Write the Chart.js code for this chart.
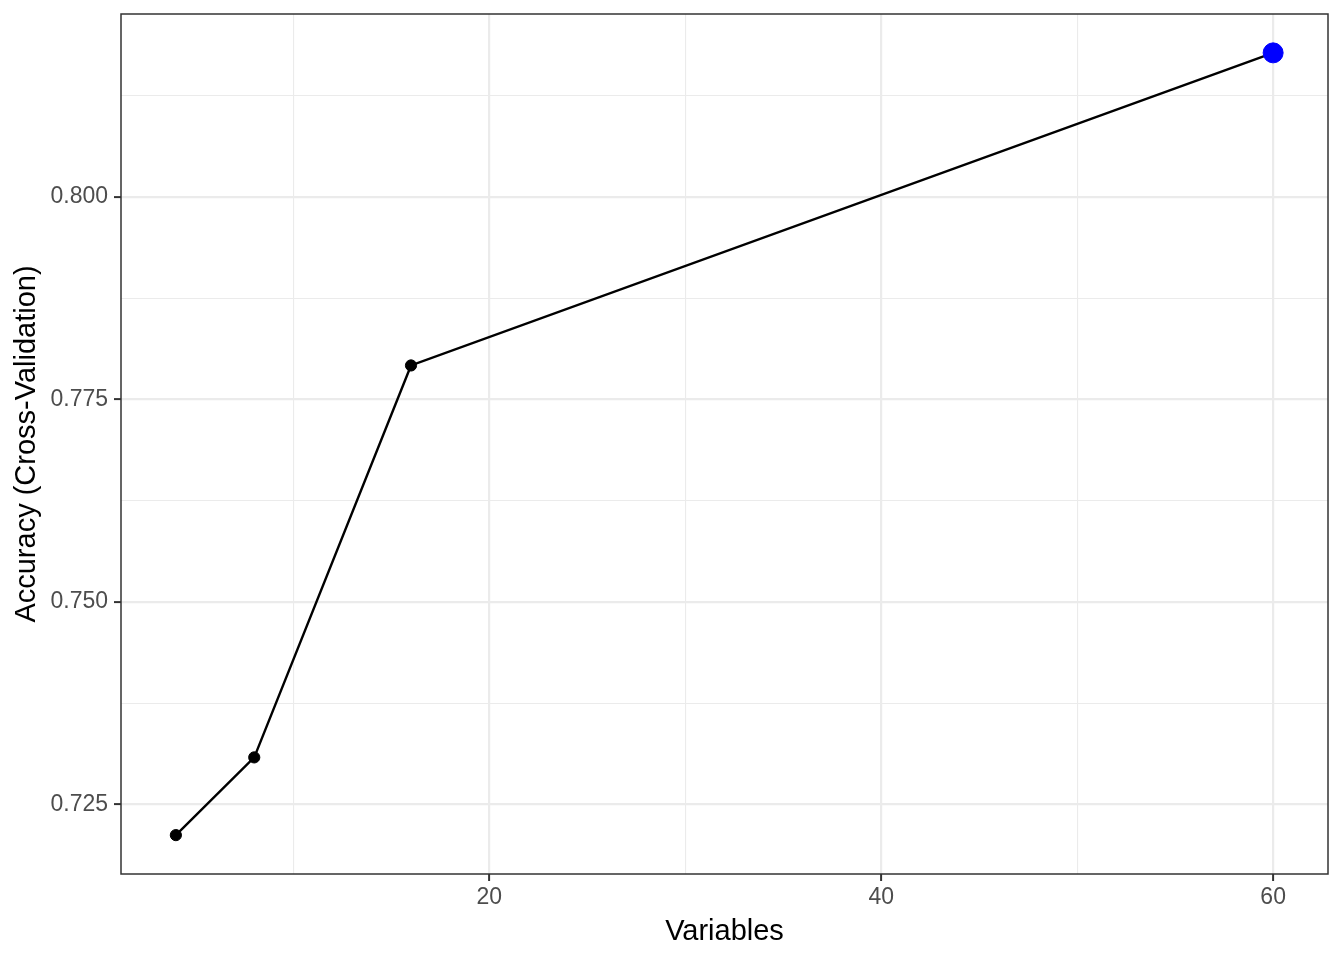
<!DOCTYPE html>
<html>
<head>
<meta charset="utf-8">
<script src="https://cdn.jsdelivr.net/npm/chart.js@4"></script>
<style>
  body { margin: 0; background: #fff; }
</style>
</head>
<body>
<canvas id="cv" width="1344" height="960"></canvas>
<script>
// data
var variables = [4, 8, 16, 60];
var accuracy = [0.7212, 0.7308, 0.7792, 0.8178];

// axis ticks (major get labels, minor only grid)
var xMajor = [20, 40, 60];
var xMinor = [10, 30, 50];
var yMajor = [0.725, 0.750, 0.775, 0.800];
var yMinor = [0.7375, 0.7625, 0.7875, 0.8125];

var FONT = "'Liberation Sans', Arial, Helvetica, sans-serif";
var best = accuracy.indexOf(Math.max.apply(null, accuracy));

function tickList(major, minor) {
    return major.concat(minor).sort(function (a, b) { return a - b; })
        .map(function (v) { return { value: v }; });
}
function isMajor(list, v) {
    return list.some(function (m) { return Math.abs(m - v) < 1e-9; });
}

var panelBorder = {
    id: 'panelBorder',
    afterDatasetsDraw: function (chart) {
        var a = chart.chartArea, c = chart.ctx;
        c.save();
        c.strokeStyle = '#333333';
        c.lineWidth = 1.5;
        c.strokeRect(a.left, a.top, a.right - a.left, a.bottom - a.top);
        c.restore();
    }
};

new Chart(document.getElementById('cv'), {
    type: 'line',
    data: {
        datasets: [{
            data: variables.map(function (v, i) { return { x: v, y: accuracy[i] }; }),
            borderColor: '#000000',
            borderWidth: 2.4,
            pointBackgroundColor: function (ctx) { return ctx.dataIndex === best ? '#0000FF' : '#000000'; },
            pointBorderColor: function (ctx) { return ctx.dataIndex === best ? '#0000FF' : '#000000'; },
            pointRadius: function (ctx) { return ctx.dataIndex === best ? 10 : 5.6; },
            pointBorderWidth: 1,
            tension: 0,
            clip: false
        }]
    },
    options: {
        responsive: false,
        animation: false,
        layout: { padding: { left: 0, top: 14, right: 16, bottom: 0 } },
        plugins: { legend: { display: false }, tooltip: { enabled: false } },
        scales: {
            x: {
                type: 'linear',
                min: 1.2,
                max: 62.8,
                afterBuildTicks: function (s) { s.ticks = tickList(xMajor, xMinor); },
                afterFit: function (s) { s.height = 86; s.paddingLeft = 0; s.paddingRight = 0; },
                border: { display: false },
                grid: {
                    color: '#EBEBEB',
                    lineWidth: function (ctx) { return isMajor(xMajor, ctx.tick.value) ? 2.2 : 1.1; },
                    tickColor: function (ctx) { return isMajor(xMajor, ctx.tick.value) ? '#333333' : 'rgba(0,0,0,0)'; },
                    tickWidth: 2,
                    tickLength: 7
                },
                ticks: {
                    autoSkip: false,
                    maxRotation: 0,
                    padding: 3,
                    color: '#4D4D4D',
                    font: { family: FONT, size: 23 },
                    callback: function (v) { return isMajor(xMajor, v) ? String(v) : ''; }
                },
                title: {
                    display: true,
                    text: 'Variables',
                    color: '#000000',
                    font: { family: FONT, size: 29 },
                    padding: { top: 4, bottom: 11 }
                }
            },
            y: {
                type: 'linear',
                min: 0.7164,
                max: 0.8226,
                afterBuildTicks: function (s) { s.ticks = tickList(yMajor, yMinor); },
                afterFit: function (s) { s.width = 121; s.paddingTop = 0; s.paddingBottom = 0; },
                border: { display: false },
                grid: {
                    color: '#EBEBEB',
                    lineWidth: function (ctx) { return isMajor(yMajor, ctx.tick.value) ? 2.2 : 1.1; },
                    tickColor: function (ctx) { return isMajor(yMajor, ctx.tick.value) ? '#333333' : 'rgba(0,0,0,0)'; },
                    tickWidth: 2,
                    tickLength: 7
                },
                ticks: {
                    autoSkip: false,
                    padding: 6,
                    color: '#4D4D4D',
                    font: { family: FONT, size: 23 },
                    callback: function (v) { return isMajor(yMajor, v) ? v.toFixed(3) : ''; }
                },
                title: {
                    display: true,
                    text: 'Accuracy (Cross-Validation)',
                    color: '#000000',
                    font: { family: FONT, size: 29 },
                    padding: { top: 10, bottom: 0 }
                }
            }
        }
    },
    plugins: [panelBorder]
});
</script>
</body>
</html>
